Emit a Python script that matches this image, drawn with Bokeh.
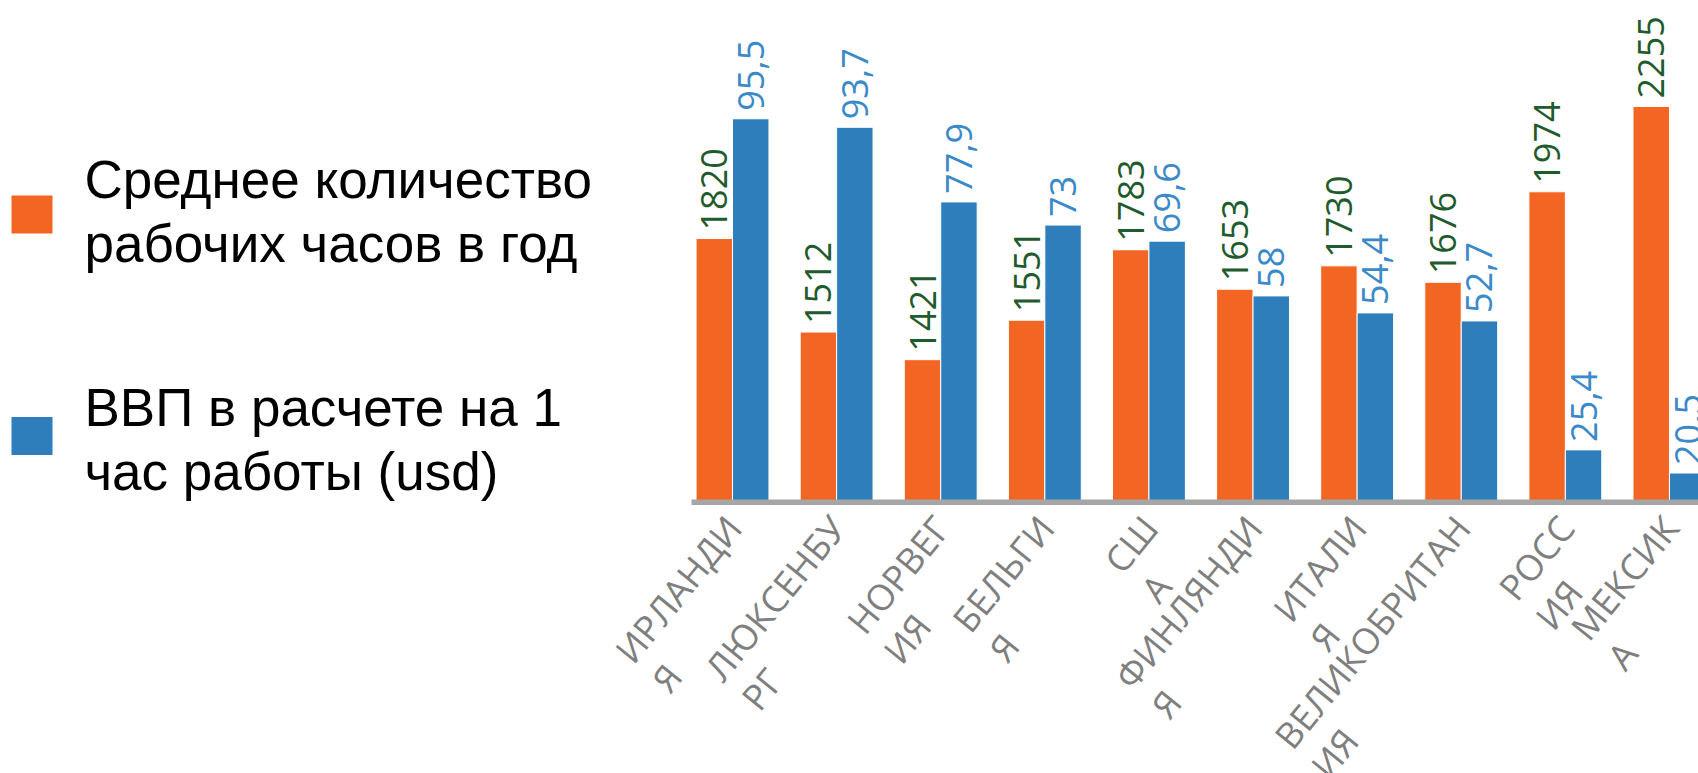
import math
from bokeh.plotting import figure
from bokeh.models import ColumnDataSource, Range1d, LinearAxis, FixedTicker
from bokeh.layouts import row, column
from bokeh.transform import dodge
from bokeh.core.properties import value
from bokeh.embed import file_html
from bokeh.resources import INLINE

# ---------------- data ----------------
country_labels = ["ИРЛАНДИ\nЯ", "ЛЮКСЕНБУ\nРГ", "НОРВЕГ\nИЯ", "БЕЛЬГИ\nЯ", "СШ\nА",
                  "ФИНЛЯНДИ\nЯ", "ИТАЛИ\nЯ", "ВЕЛИКОБРИТАН\nИЯ", "РОСС\nИЯ", "МЕКСИК\nА"]
hours = [1820, 1512, 1421, 1551, 1783, 1653, 1730, 1676, 1974, 2255]
gdp_per_hour = [95.5, 93.7, 77.9, 73, 69.6, 58, 54.4, 52.7, 25.4, 20.5]
series_names = ["Среднее количество\nрабочих часов в год",
                "ВВП в расчете на 1\nчас работы (usd)"]

# value-axis extents (axes are hidden)
hours_range = (950.6, 2604.0)
gdp_range = (14.26, 120.55)

# ---------------- styles ----------------
ORANGE = "#F36523"
BLUE = "#2E7EBB"
GREEN_TXT = "#1F5B2C"
BLUE_TXT = "#3A89C9"
GRAY_TXT = "#7F7F7F"
AXIS_GRAY = "#A6A6A6"

LEFT_W = 600
CH_W = 1698 - LEFT_W
PLOT_OFFSET = 691 - LEFT_W   # bars area starts this far right of the chart canvas edge
CH_H = 505
LBL_H = 773 - CH_H

XA, XB = -0.394, 9.279
ppu = (CH_W - PLOT_OFFSET) / (XB - XA)
XL = XA - PLOT_OFFSET / ppu
xr = Range1d(XL, XB)

fmt = lambda v: (f"{v:g}").replace(".", ",")
src = ColumnDataSource(dict(
    x=list(range(len(hours))),
    hours=hours,
    gdp=gdp_per_hour,
    hl=[fmt(v) for v in hours],
    gl=[fmt(v) for v in gdp_per_hour],
    cl=country_labels,
))

# ---------------- chart ----------------
p = figure(width=CH_W, height=CH_H, x_range=xr,
           y_range=Range1d(*hours_range), x_axis_type=None, y_axis_type=None,
           toolbar_location=None, output_backend="svg",
           min_border_left=0, min_border_right=0, min_border_top=0,
           min_border_bottom=3)
p.extra_y_ranges = {"gdp": Range1d(*gdp_range)}
p.outline_line_color = None
p.grid.visible = False
p.background_fill_color = "white"
p.border_fill_color = "white"

W = 0.35
p.vbar(x=dodge("x", -W / 2), top="hours", width=W, source=src,
       fill_color=ORANGE, line_color="white", line_width=1)
p.vbar(x=dodge("x", W / 2), top="gdp", width=W, source=src, y_range_name="gdp",
       fill_color=BLUE, line_color="white", line_width=1)

p.text(x=dodge("x", -W / 2), y="hours", text="hl", source=src, angle=math.pi / 2,
       text_align="left", text_baseline="middle", y_offset=-8,
       text_font=value("Open Sans"), text_font_size="36px", text_color=GREEN_TXT)
p.text(x=dodge("x", W / 2), y="gdp", text="gl", source=src, y_range_name="gdp",
       angle=math.pi / 2, text_align="left", text_baseline="middle", y_offset=-8,
       text_font=value("Open Sans"), text_font_size="36px", text_color=BLUE_TXT)

xaxis = LinearAxis(ticker=FixedTicker(ticks=[]), bounds=(XA, XB),
                   axis_line_color=AXIS_GRAY, axis_line_width=6,
                   major_tick_line_color=None, minor_tick_line_color=None,
                   major_label_text_font_size="0px",
                   major_tick_out=0, major_tick_in=0, major_label_standoff=0)
p.add_layout(xaxis, "below")

# ---------------- category labels ----------------
q = figure(width=CH_W, height=LBL_H, x_range=xr, y_range=Range1d(LBL_H, 0),
           x_axis_type=None, y_axis_type=None, toolbar_location=None,
           output_backend="svg", min_border=0)
q.outline_line_color = None
q.grid.visible = False
q.text(x="x", y=0, text="cl", source=src, angle=math.radians(51),
       anchor="top_right", text_align="left", x_offset=-18,
       text_font=value("Open Sans"), text_font_size="36px",
       text_color=GRAY_TXT, text_line_height=0.96)

# ---------------- legend ----------------
lg = figure(width=LEFT_W, height=773, x_range=Range1d(0, LEFT_W), y_range=Range1d(773, 0),
            x_axis_type=None, y_axis_type=None, toolbar_location=None,
            output_backend="svg", min_border=0)
lg.outline_line_color = None
lg.grid.visible = False
sw_y = [214, 435.5]
base_y = [179, 407]
pitch = 64
lg.rect(x=[31.5, 31.5], y=sw_y, width=41, height=38, fill_color=[ORANGE, BLUE],
        line_color=None)
tx, ty, tt = [], [], []
for i, name in enumerate(series_names):
    for j, line in enumerate(name.split("\n")):
        tx.append(84)
        ty.append(base_y[i] + j * pitch)
        tt.append(line)
lg.text(x=tx, y=ty, text=tt, text_align="left", text_baseline="alphabetic",
        text_font=value("Liberation Sans"), text_font_size="53px", text_color="black")

layout = row(lg, column(p, q))
open("out.html", "w").write(file_html(layout, INLINE))
